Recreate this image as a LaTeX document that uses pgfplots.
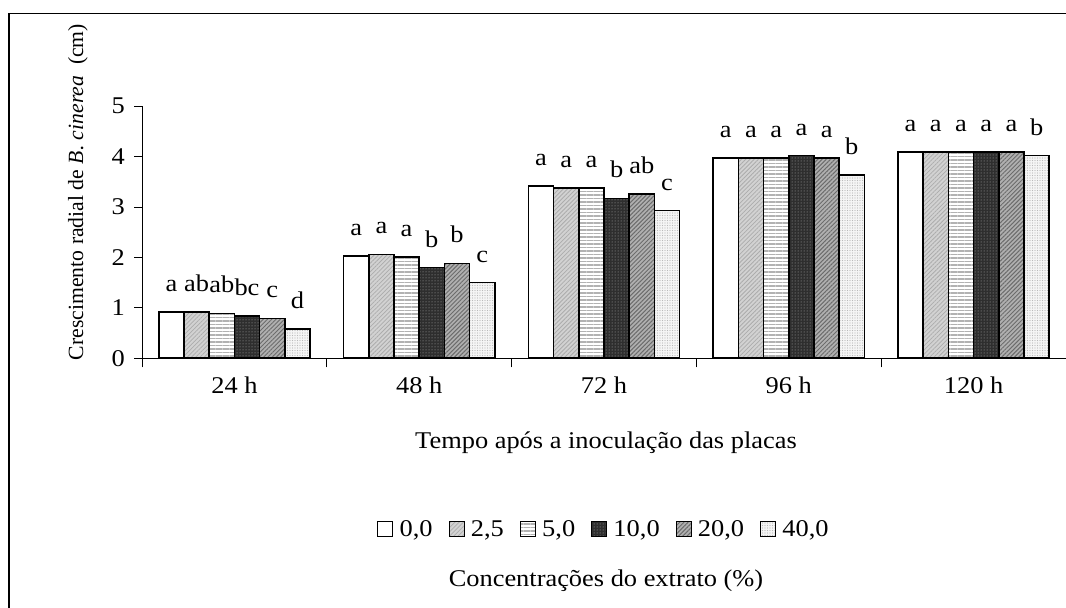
\documentclass[border=0pt]{standalone}
\usepackage{fontspec}
\setmainfont[FakeStretch=1.1]{Liberation Serif}
\newfontfamily\plainserif{Liberation Serif}
\usepackage{pgfplots}
\pgfplotsset{compat=1.18}
\usetikzlibrary{patterns,patterns.meta}

\newcommand{\lbl}{\fontsize{24bp}{28bp}\selectfont}

% square legend keys for the bar series
\pgfplotsset{
  squarelegend/.style={
    legend image code/.code={%
      \draw[##1, line width=1bp] (0bp,-7bp) rectangle (15bp,8bp);
      \path (19bp,0bp);}
  }
}

% radial growth (cm) per extract concentration, with Tukey letters
\pgfplotstableread{
x y l
1 0.92 a
2 2.03 a
3 3.42 a
4 3.97 a
5 4.09 a
}\cZero
\pgfplotstableread{
x y l
1 0.92 ab
2 2.06 a
3 3.37 a
4 3.97 a
5 4.09 a
}\cTwoFive
\pgfplotstableread{
x y l
1 0.89 ab
2 2.01 a
3 3.37 a
4 3.97 a
5 4.09 a
}\cFive
\pgfplotstableread{
x y l
1 0.84 bc
2 1.80 b
3 3.17 b
4 4.02 a
5 4.09 a
}\cTen
\pgfplotstableread{
x y l
1 0.79 c
2 1.88 b
3 3.26 ab
4 3.97 a
5 4.09 a
}\cTwenty
\pgfplotstableread{
x y l
1 0.58 d
2 1.50 c
3 2.93 c
4 3.63 b
5 4.02 b
}\cForty

\begin{document}
\begin{tikzpicture}[x=1bp,y=1bp]
\lbl
\path[use as bounding box] (0,0) rectangle (1066,608);
\draw[line width=1.5bp] (9,-5) -- (9,594.5) -- (1075,594.5);
\begin{axis}[
  at={(142bp,249.7bp)}, anchor=south west, scale only axis,
  width=924bp, height=252.3bp,
  xmin=0.5, xmax=5.5, ymin=0, ymax=5,
  axis lines*=left,
  axis line style={line width=0.8bp},
  ybar=0pt, bar width=0.1364,
  tick align=outside,
  major tick length=8bp, minor tick length=9bp,
  tick style={black, line width=0.8bp},
  xtick={1,...,5},
  xticklabels={24 h,48 h,72 h,96 h,120 h},
  every major x tick/.append style={draw=none},
  minor xtick={0.5,1.5,...,5.5},
  ytick={0,...,5},
  ticklabel style={font=\lbl},
  /pgf/number format/assume math mode=true,
  x tick label style={yshift=-2bp},
  y tick label style={xshift=-1bp},
  point meta=explicit symbolic,
  nodes near coords,
  every node near coord/.append style={font=\lbl, inner sep=0pt, yshift=20bp, draw=none, line width=0.4pt},
  legend columns=6,
  legend style={draw=none, fill=none, font=\lbl,
    at={(axis description cs:0.5,-0.68)}, anchor=center,
    /tikz/every even column/.append style={column sep=14bp}},
  squarelegend,
  every axis plot/.append style={draw=black, line width=1.6bp},
]
\addplot[fill=white] table[x=x,y=y,meta=l] {\cZero};
\addplot[fill=gray!35, postaction={pattern={Lines[angle=45,distance=3bp,line width=0.8bp]}, pattern color=gray!65}] table[x=x,y=y,meta=l] {\cTwoFive};
\addplot[fill=white, postaction={pattern={Lines[angle=0,distance=3.5bp,line width=1.2bp]}, pattern color=gray!60}] table[x=x,y=y,meta=l] {\cFive};
\addplot[fill=black!82, postaction={pattern={Dots[distance=3bp,radius=0.5bp]}, pattern color=gray!60}] table[x=x,y=y,meta=l] {\cTen};
\addplot[fill=gray!62, postaction={pattern={Lines[angle=45,distance=3bp,line width=1bp]}, pattern color=gray!85!black}] table[x=x,y=y,meta=l] {\cTwenty};
\addplot[fill=gray!8, postaction={pattern={Dots[distance=2.5bp,radius=0.55bp]}, pattern color=gray!55}] table[x=x,y=y,meta=l] {\cForty};
\legend{{0,0},{2,5},{5,0},{10,0},{20,0},{40,0}}
\end{axis}
\node[font=\lbl] at (606,165) {Tempo após a inoculação das placas};
\node[font=\fontsize{21.7bp}{26bp}\selectfont, rotate=90] at (78,416) {\plainserif Crescimento radial de \textit{B. cinerea}\ \ (cm)};
\node[font=\lbl] at (606,27) {Concentrações do extrato (\%)};
\end{tikzpicture}
\end{document}
